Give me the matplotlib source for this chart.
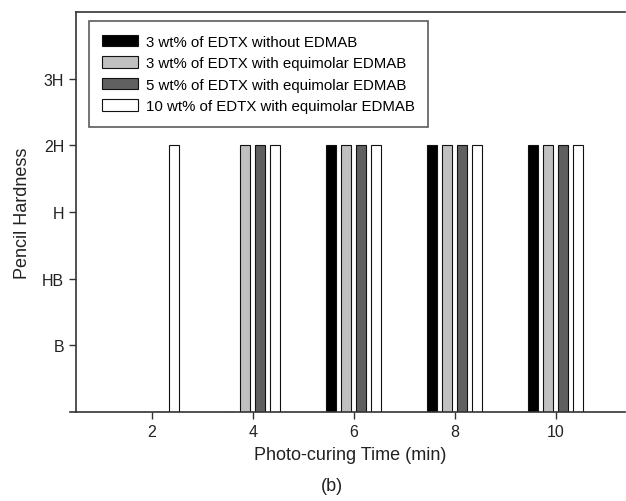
import numpy as np
import matplotlib
matplotlib.use('Agg')
import matplotlib.pyplot as plt

plt.rcParams['font.family'] = ['Liberation Sans', 'DejaVu Sans']

# Photo-curing time (min) and pencil hardness levels (1=B ... 5=3H)
times = [2, 4, 6, 8, 10]
hardness_labels = ['B', 'HB', 'H', '2H', '3H']

series_labels = [
    '3 wt% of EDTX without EDMAB',
    '3 wt% of EDTX with equimolar EDMAB',
    '5 wt% of EDTX with equimolar EDMAB',
    '10 wt% of EDTX with equimolar EDMAB',
]
edtx3_no_edmab = [0, 0, 4, 4, 4]
edtx3_edmab = [0, 4, 4, 4, 4]
edtx5_edmab = [0, 4, 4, 4, 4]
edtx10_edmab = [4, 4, 4, 4, 4]

colors = ['#000000', '#c0c0c0', '#606060', '#ffffff']
series = [edtx3_no_edmab, edtx3_edmab, edtx5_edmab, edtx10_edmab]

fig = plt.figure(figsize=(6.26, 5.02), dpi=100)
ax = fig.add_axes([0.1214, 0.1773, 0.8766, 0.7967])

x = np.array(times, dtype=float)
bar_w = 0.2
step = 0.3
for i, (vals, col, lab) in enumerate(zip(series, colors, series_labels)):
    offset = (i - 1.5) * step
    ax.bar(x + offset, vals, width=bar_w, color=col, edgecolor='#111111',
           linewidth=0.8, label=lab)

ax.set_xlim(0.5, 11.37)
ax.set_ylim(0, 6)
ax.set_xticks(times)
ax.set_yticks(range(1, 6))
ax.set_yticklabels(hardness_labels)

ax.spines['right'].set_visible(False)
for s in ['left', 'bottom', 'top']:
    ax.spines[s].set_color('#333333')
    ax.spines[s].set_linewidth(1.2)
# bottom axis pokes a little past the y axis, as in the original
ax.spines['bottom'].set_bounds(0.38, 11.37)

ax.tick_params(direction='out', length=5, width=1, colors='#333333',
               labelsize=11.5, labelcolor='#222222')

ax.set_xlabel('Photo-curing Time (min)', fontsize=13, color='#222222', labelpad=5)
ax.set_ylabel('Pencil Hardness', fontsize=13, color='#222222', labelpad=8)

leg = ax.legend(loc='upper left', bbox_to_anchor=(0.023, 0.9775), borderaxespad=0,
                fontsize=10.8, frameon=True, fancybox=False,
                handlelength=2.4, handleheight=0.8, handletextpad=0.5,
                labelspacing=0.5, borderpad=0.9)
leg.get_frame().set_edgecolor('#333333')
leg.get_frame().set_linewidth(1.2)

fig.text(0.53, 0.03, '(b)', ha='center', va='center', fontsize=13, color='#222222')

fig.savefig('out.png', dpi=100)
